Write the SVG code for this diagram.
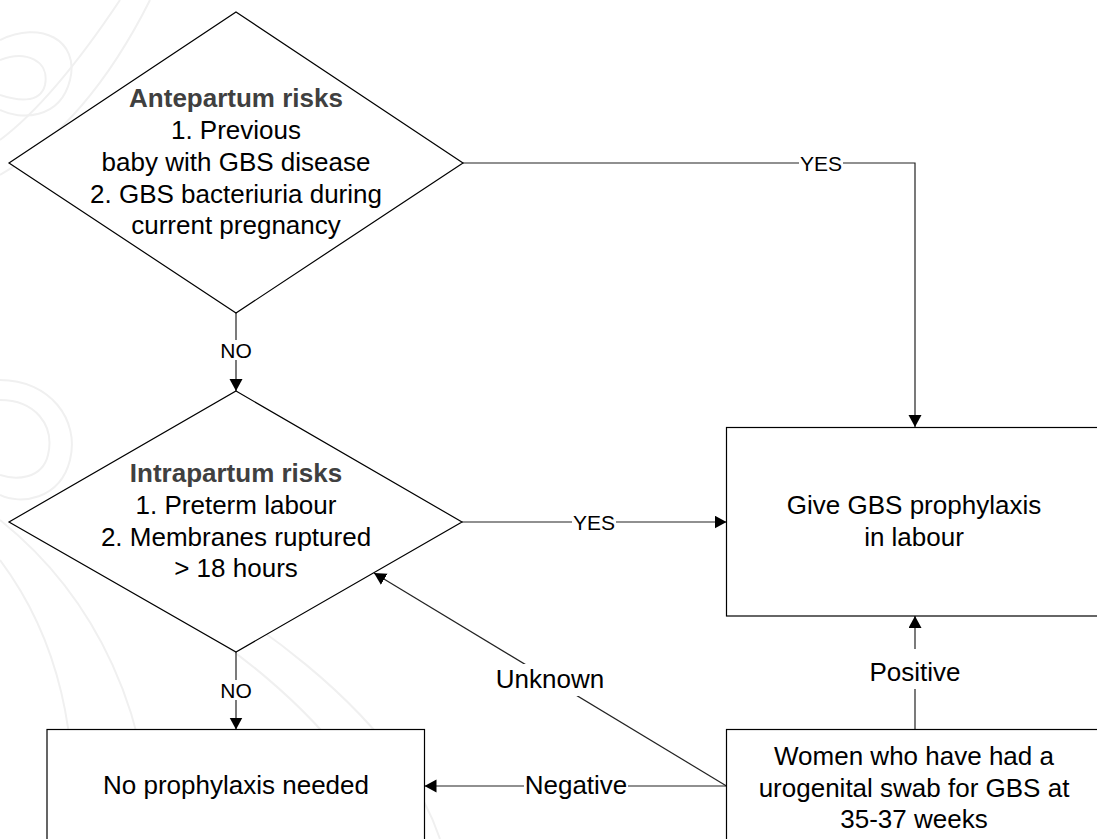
<svg xmlns="http://www.w3.org/2000/svg" width="1097" height="839" viewBox="0 0 1097 839">
<style>
.shape{fill:#fff;stroke:#000;stroke-width:1.2}
.conn{fill:none;stroke:#222;stroke-width:1.2}
.txt{font-family:"Liberation Sans",Arial,sans-serif;font-size:26px;fill:#000;text-anchor:middle}
.title{font-weight:bold;fill:#404040}
.lbl{font-family:"Liberation Sans",Arial,sans-serif;font-size:26px;fill:#000;text-anchor:middle}
.small{font-size:21px}
.bg{fill:#fff;stroke:none}
.wm{fill:none;stroke:#f0f0f0;stroke-width:2}
</style>
<defs>
<marker id="arr" markerUnits="userSpaceOnUse" markerWidth="13" markerHeight="14" refX="12" refY="6.5" orient="auto">
<path d="M0,0 L12,6.5 L0,13 z" fill="#000"/>
</marker>
</defs>
<rect width="1097" height="839" fill="#fff"/>
<g id="watermark">
<path class="wm" d="M0,40 C40,20 80,40 70,80 C60,120 20,120 0,110"/>
<path class="wm" d="M0,60 C25,50 50,60 45,85 C40,105 15,100 0,95"/>
<path class="wm" d="M120,0 C80,60 40,110 0,140"/>
<path class="wm" d="M150,0 C110,80 60,140 0,175"/>
<path class="wm" d="M0,380 C50,380 80,420 70,460 C60,500 20,505 0,495"/>
<path class="wm" d="M0,400 C35,400 55,425 48,455 C42,480 15,480 0,475"/>
<path class="wm" d="M0,560 C60,640 80,740 70,839"/>
<path class="wm" d="M0,520 C100,600 150,720 150,839"/>
<path class="wm" d="M60,520 C250,600 400,720 440,839"/>
<path class="wm" d="M40,540 C220,620 350,730 390,839"/>
</g>
<g id="connectors">
<polyline class="conn" points="462,163 915,163 915,427" marker-end="url(#arr)"/>
<line class="conn" x1="236" y1="313" x2="236" y2="391" marker-end="url(#arr)"/>
<line class="conn" x1="462" y1="522" x2="726.5" y2="522" marker-end="url(#arr)"/>
<line class="conn" x1="236" y1="652" x2="236" y2="729.5" marker-end="url(#arr)"/>
<line class="conn" x1="915" y1="729.5" x2="915" y2="616" marker-end="url(#arr)"/>
<line class="conn" x1="726.5" y1="786" x2="424.5" y2="786" marker-end="url(#arr)"/>
<line class="conn" x1="726.5" y1="786" x2="374" y2="573" marker-end="url(#arr)"/>
<rect class="bg" x="218" y="340" width="36" height="20"/>
<text class="lbl small" x="236" y="358">NO</text>
<rect class="bg" x="218" y="680" width="36" height="20"/>
<text class="lbl small" x="236" y="698">NO</text>
<rect class="bg" x="799" y="153" width="44" height="20"/>
<text class="lbl small" x="821" y="170.5">YES</text>
<rect class="bg" x="572" y="512" width="44" height="20"/>
<text class="lbl small" x="594" y="529.5">YES</text>
<rect class="bg" x="494" y="664" width="112" height="32"/>
<text class="lbl" x="550" y="688">Unknown</text>
<rect class="bg" x="866" y="649" width="98" height="40"/>
<text class="lbl" x="915" y="681">Positive</text>
<rect class="bg" x="524" y="772" width="104" height="28"/>
<text class="lbl" x="576" y="794">Negative</text>
</g>
<g id="antepartum">
<polygon class="shape" points="236,12 463,163 236,313 9,163"/>
<text class="txt title" x="236" y="107">Antepartum risks</text>
<text class="txt" x="236" y="139">1. Previous</text>
<text class="txt" x="236" y="171">baby with GBS disease</text>
<text class="txt" x="236" y="203">2. GBS bacteriuria during</text>
<text class="txt" x="236" y="234">current pregnancy</text>
</g>
<g id="intrapartum">
<polygon class="shape" points="236,391 462,522 236,652 9,522"/>
<text class="txt title" x="236" y="482">Intrapartum risks</text>
<text class="txt" x="236" y="514">1. Preterm labour</text>
<text class="txt" x="236" y="546">2. Membranes ruptured</text>
<text class="txt" x="236" y="577">&gt; 18 hours</text>
</g>
<g id="give-prophylaxis">
<rect class="shape" x="726.5" y="427.5" width="378" height="188.5"/>
<text class="txt" x="914" y="514">Give GBS prophylaxis</text>
<text class="txt" x="914" y="546">in labour</text>
</g>
<g id="no-prophylaxis">
<rect class="shape" x="47" y="729.5" width="377.5" height="130"/>
<text class="txt" x="236" y="794">No prophylaxis needed</text>
</g>
<g id="swab">
<rect class="shape" x="726.5" y="729.5" width="378" height="130"/>
<text class="txt" x="914" y="765">Women who have had a</text>
<text class="txt" x="914" y="797">urogenital swab for GBS at</text>
<text class="txt" x="914" y="828">35-37 weeks</text>
</g>
</svg>
